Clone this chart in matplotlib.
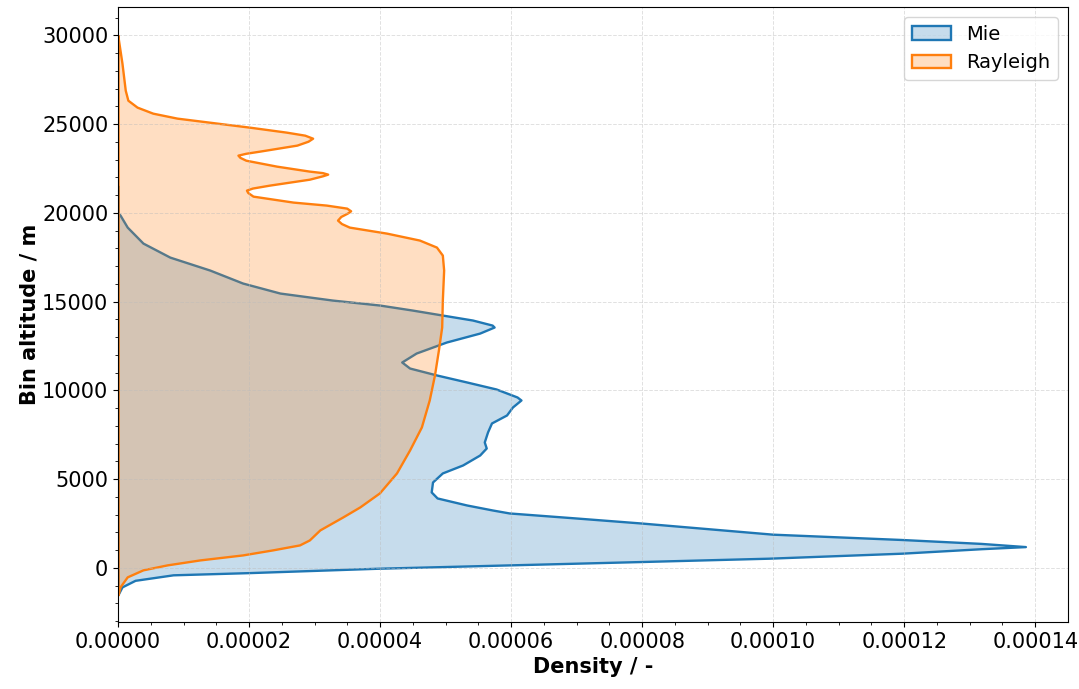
import numpy as np
from matplotlib import pyplot as plt

# altitude (m) and density (1e-5)
mie_alt = [21500, 19990, 19880, 19200, 18300, 17510, 16780, 16050, 15485, 15090,
           14810, 14527, 14245, 13965, 13680, 13570, 13230, 12725, 12105, 11600,
           11260, 10870, 10475, 10080, 9630, 9460, 9065, 8615, 8165, 7660, 7095,
           6755, 6360, 5800, 5350, 4840, 4280, 3940, 3545, 3265, 3095, 2815,
           2530, 1900, 1600, 1380, 1200, 1080, 828, 546, 355, 169, -17,
           -265, -390, -700, -1070, -1500]
mie_dens = [0.0, 0.0, 0.03, 0.14, 0.38, 0.79, 1.40, 1.90, 2.47, 3.27,
            3.99, 4.49, 4.95, 5.41, 5.71, 5.74, 5.52, 5.01, 4.55, 4.33,
            4.45, 4.86, 5.32, 5.77, 6.09, 6.15, 6.02, 5.93, 5.70, 5.64, 5.59,
            5.62, 5.52, 5.26, 4.95, 4.80, 4.78, 4.87, 5.32, 5.71, 5.97, 6.98,
            7.98, 9.99, 11.96, 13.17, 13.85, 13.17, 11.96, 9.93, 7.95, 5.97, 3.99,
            2.01, 0.84, 0.26, 0.06, 0.0]

ray_alt = [30000, 29900, 28430, 26914, 26350, 25960, 25620, 25340, 25110, 24830,
           24550, 24380, 24210, 24040, 23820, 23480, 23360, 23255, 23130, 22970,
           22635, 22355, 22270, 22185, 22090, 21900, 21565, 21400, 21285, 21150,
           20945, 20610, 20440, 20270, 20120, 19990, 19800, 19595, 19400, 19200,
           18860, 18470, 18075, 17625, 16780, 15090, 13570, 12275, 10870, 9460,
           7940, 6645, 5350, 4225, 3435, 2870, 2140, 1575, 1295, 1015, 730, 450,
           170, -110, -505, -1070, -1520]
ray_dens = [0.0, 0.0, 0.06, 0.11, 0.15, 0.29, 0.53, 0.90, 1.40, 2.01,
            2.57, 2.85, 2.97, 2.90, 2.73, 2.16, 1.95, 1.83, 1.86, 1.95,
            2.42, 2.92, 3.12, 3.20, 3.12, 2.92, 2.31, 2.05, 1.96, 1.98,
            2.06, 2.67, 3.18, 3.49, 3.55, 3.50, 3.40, 3.35, 3.41, 3.53,
            4.10, 4.60, 4.86, 4.95, 4.97, 4.95, 4.94, 4.89, 4.83, 4.75,
            4.63, 4.45, 4.25, 3.99, 3.69, 3.43, 3.08, 2.92, 2.77, 2.36, 1.90, 1.25,
            0.75, 0.38, 0.14, 0.03, 0.0]

mie_dens = np.array(mie_dens) * 1e-5
ray_dens = np.array(ray_dens) * 1e-5

fig = plt.figure(figsize=(10.79, 6.89), dpi=100)
ax = fig.add_axes([0.1094, 0.0972, 0.8804, 0.8926])

ax.fill_betweenx(mie_alt, 0, mie_dens, facecolor=(0.122, 0.467, 0.706, 0.25),
                 edgecolor='#1f77b4', linewidth=1.7, label='Mie')
ax.fill_betweenx(ray_alt, 0, ray_dens, facecolor=(1.0, 0.498, 0.055, 0.25),
                 edgecolor='#ff7f0e', linewidth=1.7, label='Rayleigh')

ax.set_xlim(0, 0.000145)
ax.set_ylim(-3050, 31600)
ax.set_xticks(np.arange(0, 0.000141, 0.00002))
ax.set_yticks(np.arange(0, 30001, 5000))
ax.minorticks_on()
ax.set_xticks(np.arange(0, 0.000145, 0.000005), minor=True)
ax.set_yticks(np.arange(-3000, 31601, 1000), minor=True)
ax.tick_params(labelsize=15)
ax.xaxis.set_major_formatter(plt.FormatStrFormatter('%.5f'))
ax.grid(True, which='major', linestyle='--', color='#bbbbbb', alpha=0.45, linewidth=0.7)

ax.set_xlabel('Density / -', fontsize=15, fontweight='bold')
ax.set_ylabel('Bin altitude / m', fontsize=15, fontweight='bold', labelpad=2)
ax.legend(loc='upper right', fontsize=14)

plt.savefig('out.png')
